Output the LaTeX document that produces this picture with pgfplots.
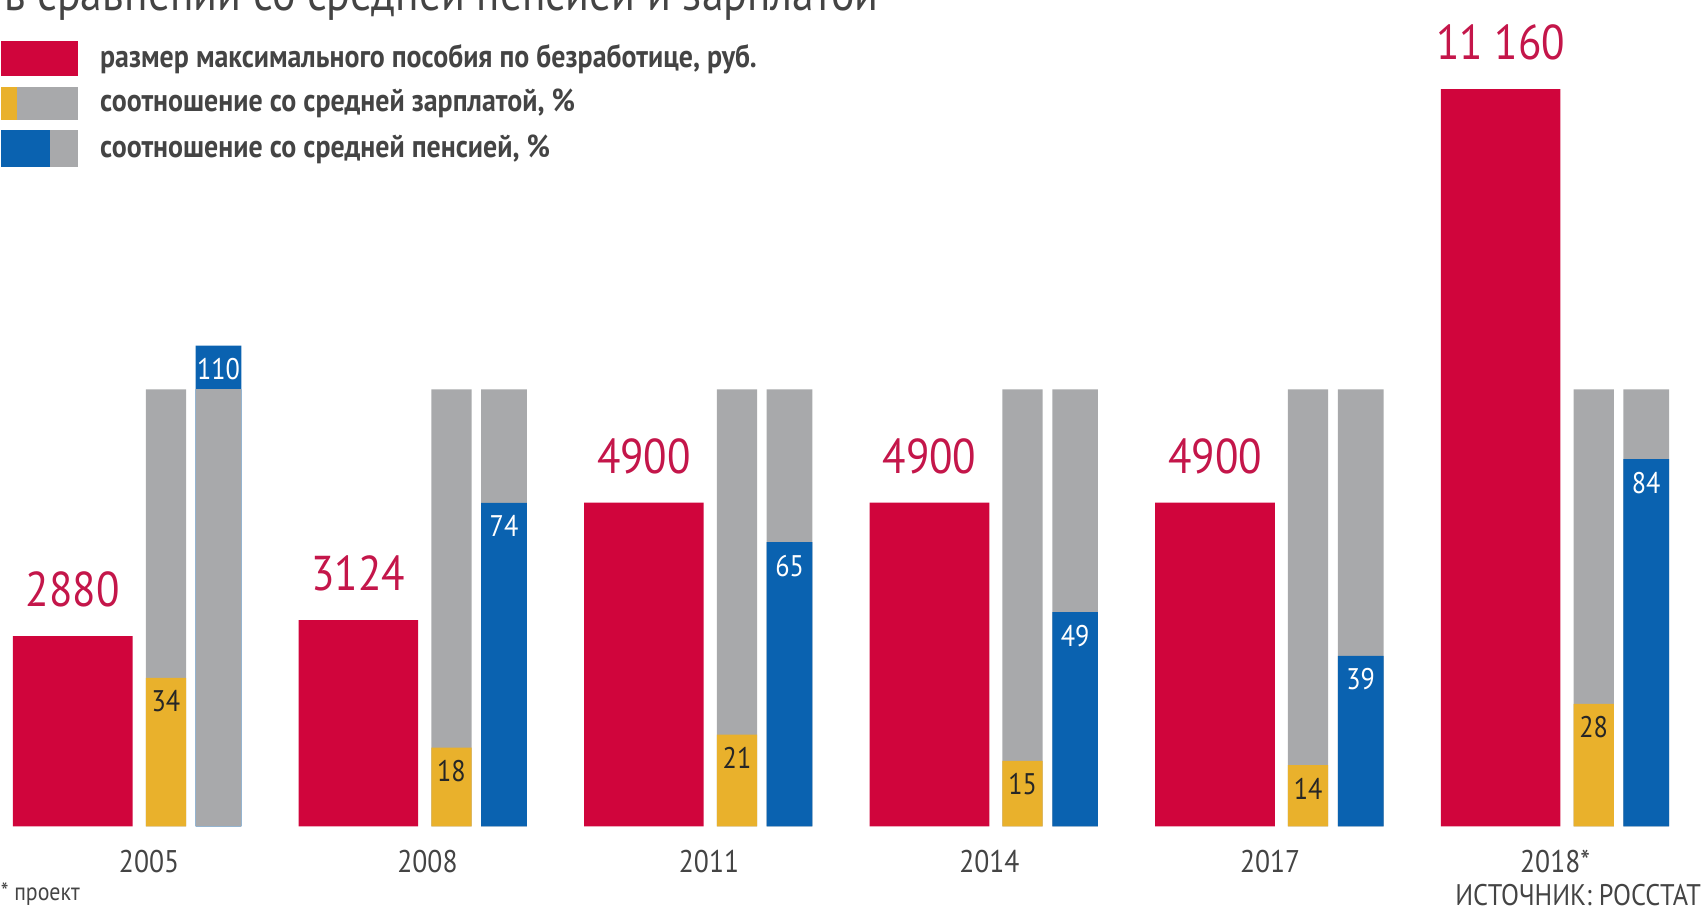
\documentclass[border=0pt]{standalone}
\usepackage{fontspec}
\setmainfont{PT Sans}[FakeStretch=0.88]
\usepackage{pgfplots}
\pgfplotsset{compat=1.18}
\definecolor{BenRed}{HTML}{D0053C}
\definecolor{LblRed}{HTML}{C4164A}
\definecolor{WageYel}{HTML}{E9B12C}
\definecolor{PenBlue}{HTML}{0A62B0}
\definecolor{BarGray}{HTML}{A8A9AB}
\definecolor{TxtGray}{HTML}{444444}

% both axes share one plot area: 1 px of the reference = 0.01cm, 1 x unit = 2.626cm
\pgfplotsset{
  base/.style={
    scale only axis, width=15.68cm, height=8.43cm,
    at={(0,0)}, anchor=south west,
    xmin=-0.476, xmax=5.495,
    axis line style={draw=none}, major tick style={draw=none},
    clip=false,
    /pgf/number format/assume math mode=true,
    /pgf/number format/1000 sep={\ },
    /pgf/number format/min exponent for 1000 sep=4,
  },
  pctlabel/.style 2 args={nodes near coords,
    nodes near coords style={anchor=north, inner sep=0pt, yshift=-0.11cm, xshift=#2,
      font=\fontsize{7.8}{8}\selectfont, text=#1}},
}

\begin{document}
\begin{tikzpicture}
% percentages: 100% = full gray bar
\begin{axis}[base,
  ymin=-20.65, ymax=189.05, ytick=\empty,
  xtick={0.046,1.021,2.007,2.989,3.972,4.970},
  xticklabels={2005,2008,2011,2014,2017,2018*},
  xticklabel style={anchor=base, yshift=0.41cm, font=\fontsize{8.2}{9}\selectfont, text=TxtGray},
]
  \addplot[ybar, bar width=0.141, bar shift=0.105, fill=BarGray, draw=none]
    coordinates {(0,100) (1,100) (2,100) (3,100) (4,100) (5,100)};
  \addplot[ybar, bar width=0.16, bar shift=0.289, fill=BarGray, draw=none]
    coordinates {(0,100) (1,100) (2,100) (3,100) (4,100) (5,100)};
  \addplot[ybar, bar width=0.141, bar shift=0.105, fill=WageYel, draw=none,
    pctlabel={black!85}{0.276cm}]
    coordinates {(0,34) (1,18) (2,21) (3,15) (4,14) (5,28)};
  \addplot[ybar, bar width=0.16, bar shift=0.289, fill=PenBlue, draw=none,
    pctlabel={white}{0.759cm}]
    coordinates {(0,110) (1,74) (2,65) (3,49) (4,39) (5,84)};
  % 2005: pension above 100% shows blue only over the gray bar
  \addplot[ybar, bar width=0.16, bar shift=0.289, fill=BarGray, draw=none]
    coordinates {(0,100)};

  \node[anchor=base west, inner sep=0pt, font=\fontsize{13}{13}\selectfont, text=TxtGray]
    at (rel axis cs:0.002,{1-10/843}) {в сравнении со средней пенсией и зарплатой};
  \node[anchor=base west, inner sep=0pt, font=\fontsize{6.5}{7}\selectfont, text=TxtGray]
    at (rel axis cs:0,{1-828/843}) {* проект};
  \node[anchor=base east, inner sep=0pt, font=\fontsize{7.8}{8}\selectfont, text=TxtGray]
    at (rel axis cs:{1565/1568},{1-833/843}) {ИСТОЧНИК: РОССТАТ};
\end{axis}

% maximum unemployment benefit, rub.
\begin{axis}[base,
  ymin=-1366, ymax=12510, ytick=\empty, xtick=\empty,
  legend style={at={(rel axis cs:0,{1-37/843})}, anchor=north west,
    draw=none, fill=none, inner sep=0pt, row sep=0.095cm, column sep=0.2cm,
    font=\fontsize{8.3}{9}\selectfont\bfseries, text=TxtGray,
    nodes={inner sep=0pt, anchor=west}},
  legend cell align=left,
]
  \addplot[ybar, bar width=0.419, bar shift=-0.221, fill=BenRed, draw=none,
    nodes near coords,
    nodes near coords style={anchor=base, inner sep=0pt, yshift=0.27cm, xshift=-0.580cm,
      font=\fontsize{12.8}{13}\selectfont, text=LblRed},
    forget plot]
    coordinates {(0,2880) (1,3124) (2,4900) (3,4900) (4,4900) (5,11160)};

  \addlegendimage{legend image code/.code={
    \fill[BenRed] (0cm,-0.155cm) rectangle (0.70cm,0.155cm);}}
  \addlegendentry{размер максимального пособия по безработице, руб.}
  \addlegendimage{legend image code/.code={
    \fill[WageYel] (0cm,-0.145cm) rectangle (0.15cm,0.145cm);
    \fill[BarGray] (0.15cm,-0.145cm) rectangle (0.70cm,0.145cm);}}
  \addlegendentry{соотношение со средней зарплатой, \%}
  \addlegendimage{legend image code/.code={
    \fill[PenBlue] (0cm,-0.165cm) rectangle (0.45cm,0.165cm);
    \fill[BarGray] (0.45cm,-0.165cm) rectangle (0.70cm,0.165cm);}}
  \addlegendentry{соотношение со средней пенсией, \%}
\end{axis}

\pgfresetboundingbox
\useasboundingbox (0,0) rectangle (15.68cm,8.43cm);
\end{tikzpicture}
\end{document}
